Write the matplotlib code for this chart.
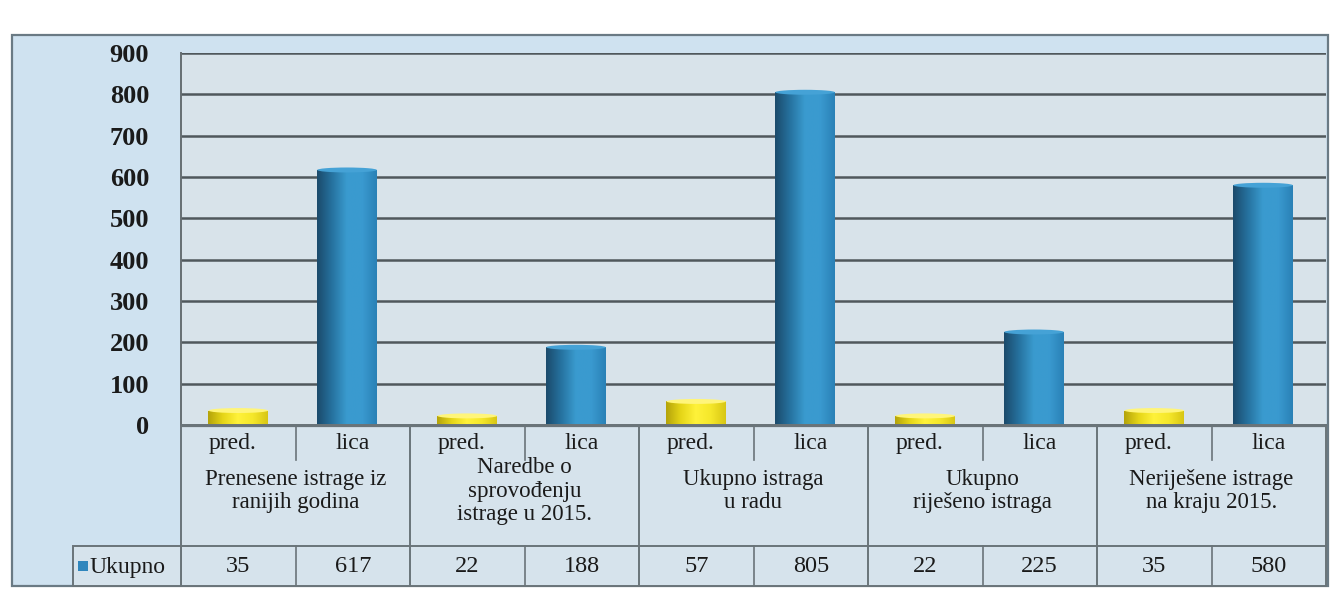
import numpy as np
import matplotlib
matplotlib.use("Agg")
import matplotlib.pyplot as plt
from matplotlib.colors import LinearSegmentedColormap
from matplotlib.patches import Rectangle, Ellipse

# ---- data ----
groups = [
    "Prenesene istrage iz\nranijih godina",
    "Naredbe o\nsprovođenju\nistrage u 2015.",
    "Ukupno istraga\nu radu",
    "Ukupno\nriješeno istraga",
    "Neriješene istrage\nna kraju 2015.",
]
sub_labels = ["pred.", "lica"]
pred_values = [35, 22, 57, 22, 35]
lica_values = [617, 188, 805, 225, 580]
series_name = "Ukupno"
y_ticks = [0, 100, 200, 300, 400, 500, 600, 700, 800, 900]

W, H = 1338, 589
SERIF = ["Liberation Serif", "DejaVu Serif"]

fig = plt.figure(figsize=(W / 100, H / 100), dpi=100)
fig.patch.set_facecolor("white")


def fx(x):
    return x / W


def fy(y):
    return 1 - y / H


# outer chart frame
frame = Rectangle((fx(12), fy(586)), fx(1328) - fx(12), fy(35) - fy(586),
                  transform=fig.transFigure, facecolor="#cfe2f0",
                  edgecolor="#6a7a84", linewidth=1.6, zorder=-5)
fig.patches.append(frame)

left, right, top, zero = 181, 1326, 53, 425
ax = fig.add_axes([fx(left), fy(zero), fx(right) - fx(left), fy(top) - fy(zero)])
ax.set_facecolor("#d8e3ea")

n_cols = 2 * len(groups)
x_pred = np.arange(len(groups)) * 2 + 0.5
x_lica = np.arange(len(groups)) * 2 + 1.45
bar_w = 0.52

for t in y_ticks:
    ax.axhline(t, color="#50585c", linewidth=1.8, zorder=1)

blue_cmap = LinearSegmentedColormap.from_list(
    "cyl_blue", ["#1b4a6b", "#26729f", "#3a9bcf", "#3a9ad0", "#2a81b6"])
yellow_cmap = LinearSegmentedColormap.from_list(
    "cyl_yellow", ["#b4a30a", "#e6d618", "#fff23a", "#f5e72a", "#d8c614"])

grad = np.linspace(0, 1, 256).reshape(1, -1)
bar_sets = [
    (x_pred, pred_values, yellow_cmap, "#fff57a"),
    (x_lica, lica_values, blue_cmap, "#45a2d6"),
]
cap_h = 12
for xs, vals, cmap, cap_color in bar_sets:
    bars = ax.bar(xs, vals, width=bar_w, color="none", edgecolor="none", zorder=3)
    for b in bars:
        x0, w, h = b.get_x(), b.get_width(), b.get_height()
        im = ax.imshow(grad, cmap=cmap, extent=[x0, x0 + w, 0, h],
                       aspect="auto", zorder=3, origin="lower")
        im.set_clip_path(b)
        ax.add_patch(Ellipse((x0 + w / 2, h), w, cap_h, facecolor=cap_color,
                             edgecolor="none", zorder=4))

ax.set_xlim(0, n_cols)
ax.set_ylim(0, 900)
ax.set_xticks([])
ax.set_yticks(y_ticks)
ax.set_yticklabels([str(t) for t in y_ticks], fontfamily=SERIF,
                   fontweight="bold", fontsize=19, color="#1a1a1a")
ax.tick_params(axis="y", length=0, pad=23)
for s in ["top", "right", "bottom"]:
    ax.spines[s].set_visible(False)
ax.spines["left"].set_color("#666e72")
ax.spines["left"].set_linewidth(1.4)

# ---- category table under the plot ----
tab_bottom = 586
tab = fig.add_axes([fx(left), fy(tab_bottom), fx(right) - fx(left), fy(zero) - fy(tab_bottom)])
tab.set_xlim(0, n_cols)
tab.set_ylim(tab_bottom, zero)
tab.set_facecolor("#d6e3ec")
tab.set_xticks([])
tab.set_yticks([])
for s in tab.spines.values():
    s.set_color("#6a7479")
    s.set_linewidth(1.4)

row_split = 546
tab.axhline(row_split, color="#6a7479", linewidth=1.4)
tab.axhline(zero + 1, color="#6a7479", linewidth=1.6)
for g in range(1, len(groups)):
    tab.axvline(2 * g, color="#6a7479", linewidth=1.4)
for g in range(len(groups)):
    tab.plot([2 * g + 1, 2 * g + 1], [zero, 460], color="#6a7479", linewidth=1.2)
    tab.plot([2 * g + 1, 2 * g + 1], [row_split, tab_bottom], color="#6a7479",
             linewidth=1.2)

text_kw = dict(fontfamily=SERIF, color="#1a1a1a")
for g, name in enumerate(groups):
    tab.text(2 * g + 0.45, 443, sub_labels[0], ha="center", va="center",
             fontsize=17, **text_kw)
    tab.text(2 * g + 1.5, 443, sub_labels[1], ha="center", va="center",
             fontsize=17, **text_kw)
    tab.text(2 * g + 1, 491, name, ha="center", va="center",
             linespacing=1.18, fontsize=16.5, **text_kw)
    tab.text(2 * g + 0.5, 566, str(pred_values[g]), ha="center", va="center",
             fontsize=17.5, **text_kw)
    tab.text(2 * g + 1.5, 566, str(lica_values[g]), ha="center", va="center",
             fontsize=17.5, **text_kw)

# series label cell with a legend key
key = Rectangle((fx(73), fy(tab_bottom)), fx(left) - fx(73), fy(row_split) - fy(tab_bottom),
                transform=fig.transFigure, facecolor="#d6e3ec",
                edgecolor="#6a7479", linewidth=1.4, zorder=2)
fig.patches.append(key)
sq = Rectangle((fx(78), fy(571)), fx(88) - fx(78), fy(561) - fy(571),
               transform=fig.transFigure, facecolor="#2f86bd",
               edgecolor="none", zorder=3)
fig.patches.append(sq)
fig.text(fx(89), fy(567), series_name, ha="left", va="center", fontsize=17,
         **text_kw)

fig.savefig("out.png", dpi=100)
